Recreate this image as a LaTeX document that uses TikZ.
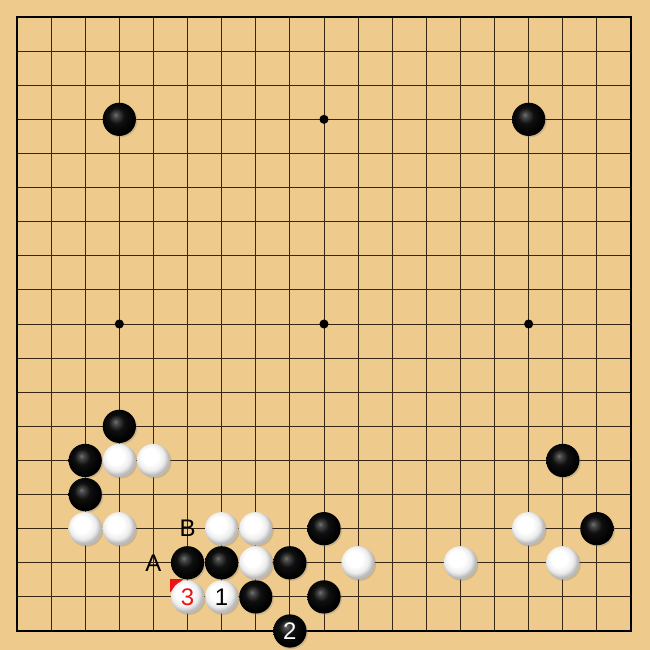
\documentclass[tikz,border=0pt]{standalone}
\usepackage{fontspec}
\setmainfont{Liberation Sans}
\usetikzlibrary{shadows}
\definecolor{wood}{RGB}{238,203,140}
\definecolor{gridline}{RGB}{55,38,18}
\definecolor{markred}{RGB}{235,20,20}
\pgfdeclareradialshading{blackball}{\pgfpoint{-6bp}{7bp}}{color(0bp)=(black!55); color(4bp)=(black!72); color(12bp)=(black!94); color(25bp)=(black); color(50bp)=(black)}
\pgfdeclareradialshading{whiteball}{\pgfpoint{-7bp}{8bp}}{color(0bp)=(white); color(12bp)=(white); color(20bp)=(white!93!black); color(24bp)=(white!80!black); color(25bp)=(white!74!black); color(50bp)=(white!65!black)}
\tikzstyle{stone}=[circle, minimum size=5.85mm, inner sep=0pt, font=\fontsize{12pt}{12pt}\selectfont, drop shadow={shadow xshift=0.7pt, shadow yshift=-0.7pt, opacity=0.3}]
\tikzstyle{bstone}=[stone, shading=blackball, text=white]
\tikzstyle{wstone}=[stone, shading=whiteball, text=black]
\tikzstyle{letter}=[font=\fontsize{12pt}{12pt}\selectfont]
\tikzstyle{star}=[circle, fill=black, inner sep=0pt, minimum size=1.6mm]

\begin{document}
\begin{tikzpicture}[x=0.6cm,y=-0.6cm]
		    % board
		    \fill[wood] (-0.498,-0.498) rectangle (18.557,18.557);
		    \useasboundingbox (-0.498,-0.498) rectangle (18.557,18.557);
		    \foreach \k in {1,...,17} {
		        \draw[gridline, line width=0.45pt] (\k,0) -- (\k,18);
		        \draw[gridline, line width=0.45pt] (0,\k) -- (18,\k);
		    }
		    \draw[black, line width=1pt] (0,0) rectangle (18,18);
		    \foreach \c/\r in {3/3,9/3,15/3,3/9,9/9,15/9,3/15,9/15,15/15}
		        \node[star] (s-\c-\r) at (\c,\r) {};
		    % mark on move 3
		    \fill[markred] (4.49,16.48) -- (4.87,16.48) -- (4.49,16.86) -- cycle;
		    % black stones
		    \foreach \c/\r in {3/3,15/3,3/12,2/13,16/13,2/14,9/15,17/15,5/16,6/16,8/16,7/17,9/17}
		        \node[bstone] (b-\c-\r) at (\c,\r) {};
		    % white stones
		    \foreach \c/\r in {3/13,4/13,2/15,3/15,6/15,7/15,15/15,7/16,10/16,13/16,16/16}
		        \node[wstone] (w-\c-\r) at (\c,\r) {};
		    % numbered moves
		    \node[wstone] (m1) at (6,17) {1};
		    \node[bstone] (m2) at (8,18) {2};
		    \node[wstone, text=markred] (m3) at (5,17) {3};
		    % letters
		    \node[letter] (la) at (4,16) {A};
		    \node[letter] (lb) at (5,15) {B};
		\end{tikzpicture}
\end{document}
